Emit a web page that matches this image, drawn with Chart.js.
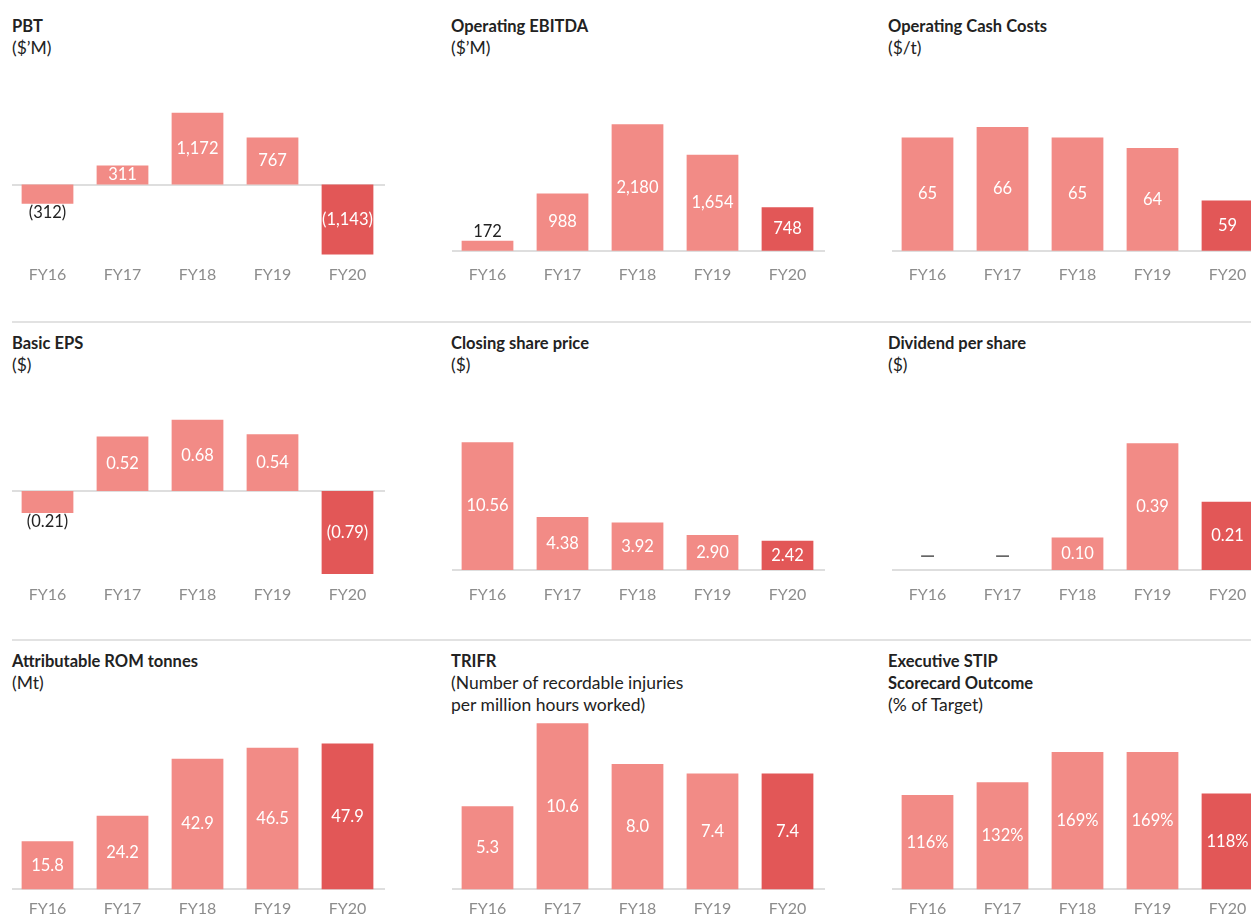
<!DOCTYPE html>
<html>
<head>
<meta charset="utf-8">
<script src="https://cdn.jsdelivr.net/npm/chart.js@4"></script>
<style>
  body { margin: 0; width: 1251px; height: 916px; overflow: hidden; background: #fff; position: relative; font-family: Lato, sans-serif; }
  .title { position: absolute; font-size: 16.5px; line-height: 22px; color: #222; white-space: nowrap; }
  .title b { display: block; font-weight: 700; }
  .title span { display: block; font-size: 17.5px; }
  canvas { position: absolute; }
  .rule { position: absolute; left: 12px; width: 1239px; height: 2px; background: #e2e2e2; }
</style>
</head>
<body>
<div class="rule" style="top:321px"></div>
<div class="rule" style="top:639px"></div>

<script>
// categories
const years = ["FY16", "FY17", "FY18", "FY19", "FY20"];

// series values
const pbt = [-312, 311, 1172, 767, -1143];
const ebitda = [172, 988, 2180, 1654, 748];
const cashCosts = [65, 66, 65, 64, 59];
const basicEps = [-0.21, 0.52, 0.68, 0.54, -0.79];
const sharePrice = [10.56, 4.38, 3.92, 2.90, 2.42];
const dividend = [0, 0, 0.10, 0.39, 0.21];
const romTonnes = [15.8, 24.2, 42.9, 46.5, 47.9];
const trifr = [5.3, 10.6, 8.0, 7.4, 7.4];
const stip = [116, 132, 169, 169, 118];

const light = "#f28b86";
const dark = "#e25757";

const colLeft = [10, 450, 890];
const titleLeft = [12, 451, 888];
const rowTop = [80, 400, 717];
const titleTop = [15, 332, 650];
const tickPad = [7, 7, 4];

const panels = [
  { title: ["PBT"], sub: ["($’M)"], data: pbt, dec: 0, min: -1199, max: 1705, outside: [0] },
  { title: ["Operating EBITDA"], sub: ["($’M)"], data: ebitda, dec: 0, min: -126, max: 2943, outside: [0] },
  { title: ["Operating Cash Costs"], sub: ["($/t)"], data: cashCosts, dec: 0, min: 53.5, max: 70.5, base: 54.2, outside: [] },
  { title: ["Basic EPS"], sub: ["($)"], data: basicEps, dec: 2, min: -0.829, max: 0.867, outside: [0] },
  { title: ["Closing share price"], sub: ["($)"], data: sharePrice, dec: 2, min: -0.66, max: 14.05, outside: [] },
  { title: ["Dividend per share"], sub: ["($)"], data: dividend, dec: 2, min: -0.0246, max: 0.523, outside: [] },
  { title: ["Attributable ROM tonnes"], sub: ["(Mt)"], data: romTonnes, dec: 1, min: -1.87, max: 56.6, outside: [] },
  { title: ["TRIFR"], sub: ["(Number of recordable injuries", "per million hours worked)"], data: trifr, dec: 1, min: -0.364, max: 11.0, outside: [] },
  { title: ["Executive STIP", "Scorecard Outcome"], sub: ["(% of Target)"], data: stip, dec: 0, suffix: "%", min: -7.0, max: 212.2, outside: [] }
];

function fmt(v, dec, suffix) {
  const s = Math.abs(v).toLocaleString("en-US", { minimumFractionDigits: dec, maximumFractionDigits: dec }) + (suffix || "");
  return v < 0 ? "(" + s + ")" : s;
}

// zero line + value labels
const valueLabels = {
  id: "valueLabels",
  beforeDatasetsDraw(chart) {
    const { ctx, chartArea, scales } = chart;
    const p = chart.options.plugins.valueLabels;
    const y0 = scales.y.getPixelForValue(p.base);
    ctx.save();
    ctx.fillStyle = "#dedede";
    ctx.fillRect(chartArea.left + 2, Math.round(y0) - 1, chartArea.right - chartArea.left - 2, 2);
    ctx.restore();
  },
  afterDatasetsDraw(chart) {
    const { ctx } = chart;
    const p = chart.options.plugins.valueLabels;
    const data = chart.data.datasets[0].data;
    ctx.save();
    ctx.textAlign = "center";
    ctx.textBaseline = "middle";
    chart.getDatasetMeta(0).data.forEach((bar, i) => {
      const v = data[i];
      let text = fmt(v, p.dec, p.suffix);
      let color = "#fff";
      let y;
      ctx.font = "16.5px Lato";
      if (v === 0) {
        text = "—"; color = "#666"; y = bar.base - 14;
        ctx.font = "bold 19px Lato";
      } else if (p.outside.includes(i)) {
        color = "#222";
        y = v > 0 ? bar.y - 9 : bar.y + 9;
      } else {
        y = (bar.y + bar.base) / 2;
      }
      ctx.fillStyle = color;
      ctx.fillText(text, bar.x, y);
    });
    ctx.restore();
  }
};

panels.forEach((p, k) => {
  const col = k % 3, row = Math.floor(k / 3);

  const t = document.createElement("div");
  t.className = "title";
  t.style.left = titleLeft[col] + "px";
  t.style.top = titleTop[row] + "px";
  t.innerHTML = p.title.map(s => "<b>" + s + "</b>").join("") + p.sub.map(s => "<span>" + s + "</span>").join("");
  document.body.appendChild(t);

  const cv = document.createElement("canvas");
  cv.width = 375;
  cv.height = 218;
  cv.style.left = colLeft[col] + "px";
  cv.style.top = rowTop[row] + "px";
  document.body.appendChild(cv);

  const ds = {
    data: p.data,
    backgroundColor: years.map((_, i) => (i === years.length - 1 ? dark : light)),
    barPercentage: 0.69,
    categoryPercentage: 1
  };
  if (p.base !== undefined) ds.base = p.base;

  new Chart(cv.getContext("2d"), {
    type: "bar",
    data: { labels: years, datasets: [ds] },
    options: {
      responsive: false,
      animation: false,
      devicePixelRatio: 1,
      layout: { padding: 0 },
      plugins: {
        legend: { display: false },
        tooltip: { enabled: false },
        valueLabels: { base: p.base !== undefined ? p.base : 0, dec: p.dec, suffix: p.suffix, outside: p.outside }
      },
      scales: {
        x: {
          grid: { display: false, drawTicks: false },
          border: { display: false },
          ticks: { color: "#8c8c8c", font: { family: "Lato", size: 16 }, padding: tickPad[row] },
          afterFit(s) { s.height = 40; }
        },
        y: { display: false, min: p.min, max: p.max }
      }
    },
    plugins: [valueLabels]
  });
});
</script>
</body>
</html>
